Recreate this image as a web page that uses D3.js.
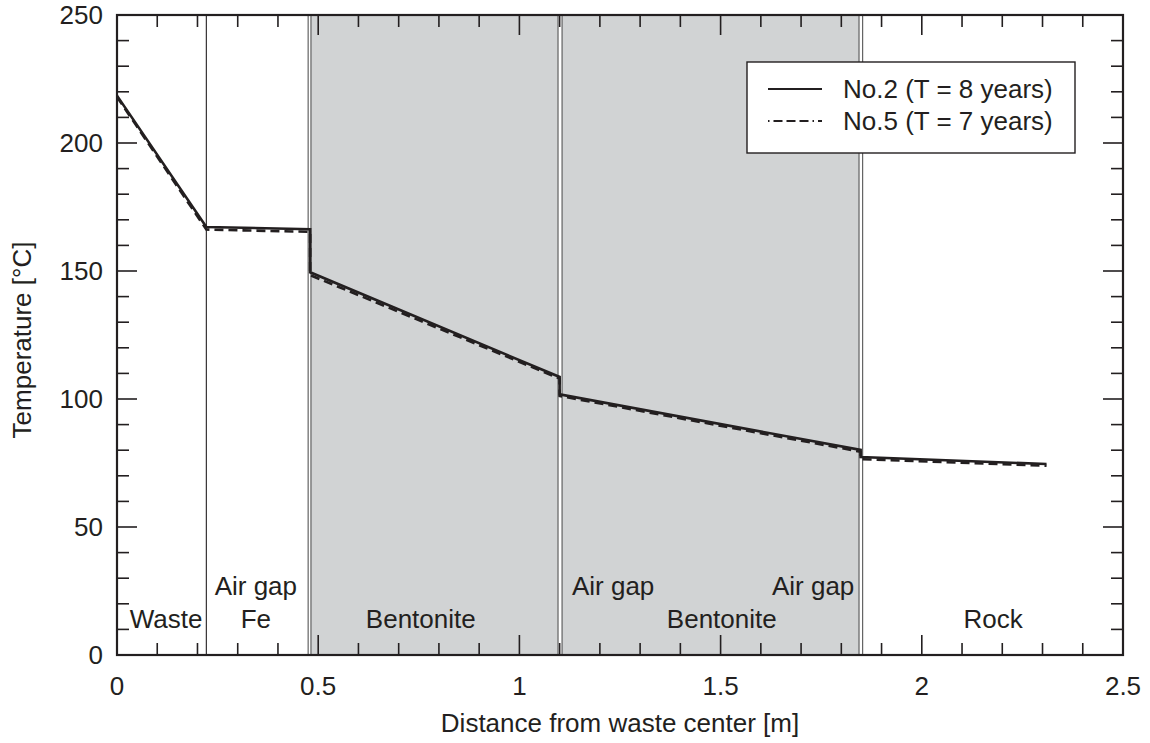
<!DOCTYPE html>
<html>
<head>
<meta charset="utf-8">
<script src="https://cdn.jsdelivr.net/npm/d3@7"></script>
<style>
  body { margin: 0; background: #fff; }
  svg { display: block; font-family: "Liberation Sans", Arial, Helvetica, sans-serif; }
</style>
</head>
<body>
<svg width="1150" height="743"></svg>
<script>
// распределение температуры по радиусу
const xNo2 = [0, 0.222, 0.48, 0.48, 1.1, 1.1, 1.848, 1.848, 2.31];
const tNo2 = [218.5, 167.2, 166.3, 149.5, 108.6, 101.8, 80.1, 77.3, 74.6];
const xNo5 = [0, 0.222, 0.48, 0.48, 1.1, 1.1, 1.848, 1.848, 2.31];
const tNo5 = [218.0, 166.2, 165.3, 148.4, 108.0, 101.2, 79.4, 76.5, 73.9];

const seriesNames = ["No.2 (T = 8 years)", "No.5 (T = 7 years)"];

// границы слоев и закрашенные области (бентонит)
const boundaries = [0.222, 0.475, 0.482, 1.096, 1.106, 1.844, 1.853];
const grayZones = [[0.482, 1.096], [1.106, 1.844]];

// подписи слоев: [x, строка, текст]
const layerLabels = [
    [0.122, 0, "Waste"],
    [0.345, 1, "Air gap"],
    [0.345, 0, "Fe"],
    [0.755, 0, "Bentonite"],
    [1.233, 1, "Air gap"],
    [1.503, 0, "Bentonite"],
    [1.73, 1, "Air gap"],
    [2.177, 0, "Rock"]
];

const xTicks = [0, 0.5, 1, 1.5, 2, 2.5];
const yTicks = [0, 50, 100, 150, 200, 250];

const svg = d3.select("svg");
const area = { left: 117, right: 1123, top: 15, bottom: 655 };
const ink = "#231f20";
const fontSize = "26px";

const scX = d3.scaleLinear().domain([0, 2.5]).range([area.left, area.right]);
const scY = d3.scaleLinear().domain([0, 250]).range([area.bottom, area.top]);

// серые зоны
svg.selectAll("rect.zone")
    .data(grayZones)
    .enter()
    .append("rect")
    .attr("class", "zone")
    .attr("x", d => scX(d[0]))
    .attr("y", area.top)
    .attr("width", d => scX(d[1]) - scX(d[0]))
    .attr("height", area.bottom - area.top)
    .style("fill", "#d1d3d4");

// вертикальные границы слоев
svg.selectAll("line.bound")
    .data(boundaries)
    .enter()
    .append("line")
    .attr("class", "bound")
    .attr("x1", d => scX(d)).attr("x2", d => scX(d))
    .attr("y1", area.top).attr("y2", area.bottom)
    .style("stroke", (d, i) => i === 0 ? ink : "#555")
    .style("stroke-width", 1.1);

// засечки внутрь на всех четырех сторонах
const minorX = d3.range(0, 2.501, 0.1);
const minorY = d3.range(0, 250.1, 10);
const isMajorX = v => Math.abs(v / 0.5 - Math.round(v / 0.5)) < 1e-6;
const isMajorY = v => v % 50 === 0;

const ticks = svg.append("g").style("stroke", ink).style("stroke-width", 1.6);
minorX.forEach(v => {
    const len = isMajorX(v) ? 20 : 12;
    ticks.append("line").attr("x1", scX(v)).attr("x2", scX(v))
        .attr("y1", area.bottom).attr("y2", area.bottom - len);
    ticks.append("line").attr("x1", scX(v)).attr("x2", scX(v))
        .attr("y1", area.top).attr("y2", area.top + len);
});
minorY.forEach(v => {
    const len = isMajorY(v) ? 20 : 12;
    ticks.append("line").attr("x1", area.left).attr("x2", area.left + len)
        .attr("y1", scY(v)).attr("y2", scY(v));
    ticks.append("line").attr("x1", area.right).attr("x2", area.right - len)
        .attr("y1", scY(v)).attr("y2", scY(v));
});

// рамка
svg.append("rect")
    .attr("x", area.left).attr("y", area.top)
    .attr("width", area.right - area.left)
    .attr("height", area.bottom - area.top)
    .style("fill", "none")
    .style("stroke", ink)
    .style("stroke-width", 2.2);

// подписи делений
svg.selectAll("text.xt")
    .data(xTicks)
    .enter()
    .append("text")
    .attr("class", "xt")
    .attr("x", d => scX(d))
    .attr("y", 695)
    .attr("text-anchor", "middle")
    .style("font-size", fontSize)
    .style("fill", ink)
    .text(d => d);

svg.selectAll("text.yt")
    .data(yTicks)
    .enter()
    .append("text")
    .attr("class", "yt")
    .attr("x", 103)
    .attr("y", d => scY(d) + 9)
    .attr("text-anchor", "end")
    .style("font-size", fontSize)
    .style("fill", ink)
    .text(d => d);

// подписи осей
svg.append("text")
    .attr("x", (area.left + area.right) / 2)
    .attr("y", 732)
    .attr("text-anchor", "middle")
    .style("font-size", fontSize)
    .style("fill", ink)
    .text("Distance from waste center [m]");

svg.append("text")
    .attr("transform", `translate(31, ${(area.top + area.bottom) / 2 + 5}) rotate(-90)`)
    .attr("text-anchor", "middle")
    .style("font-size", fontSize)
    .style("fill", ink)
    .text("Temperature [°C]");

// подписи слоев
svg.selectAll("text.layer")
    .data(layerLabels)
    .enter()
    .append("text")
    .attr("class", "layer")
    .attr("x", d => scX(d[0]))
    .attr("y", d => d[1] === 0 ? 628 : 595)
    .attr("text-anchor", "middle")
    .style("font-size", fontSize)
    .style("fill", ink)
    .text(d => d[2]);

// кривые температуры
const line = d3.line().x(d => scX(d[0])).y(d => scY(d[1]));

svg.append("path")
    .datum(d3.zip(xNo5, tNo5))
    .attr("d", line)
    .style("fill", "none")
    .style("stroke", ink)
    .style("stroke-width", 2.6)
    .style("stroke-dasharray", "9,5");

svg.append("path")
    .datum(d3.zip(xNo2, tNo2))
    .attr("d", line)
    .style("fill", "none")
    .style("stroke", ink)
    .style("stroke-width", 2.6);

// легенда
const legend = svg.append("g");
legend.append("rect")
    .attr("x", 747).attr("y", 62)
    .attr("width", 328).attr("height", 91)
    .style("fill", "#fff")
    .style("stroke", ink)
    .style("stroke-width", 1.4);

seriesNames.forEach((name, i) => {
    const y = 89 + i * 32;
    legend.append("line")
        .attr("x1", 768).attr("x2", 822)
        .attr("y1", y).attr("y2", y)
        .style("stroke", ink)
        .style("stroke-width", 2)
        .style("stroke-dasharray", i === 0 ? null : "1.5,4,9,4,9,4,9,4");
    legend.append("text")
        .attr("x", 843).attr("y", y + 9)
        .style("font-size", fontSize)
        .style("fill", ink)
        .text(name);
});
</script>
</body>
</html>
